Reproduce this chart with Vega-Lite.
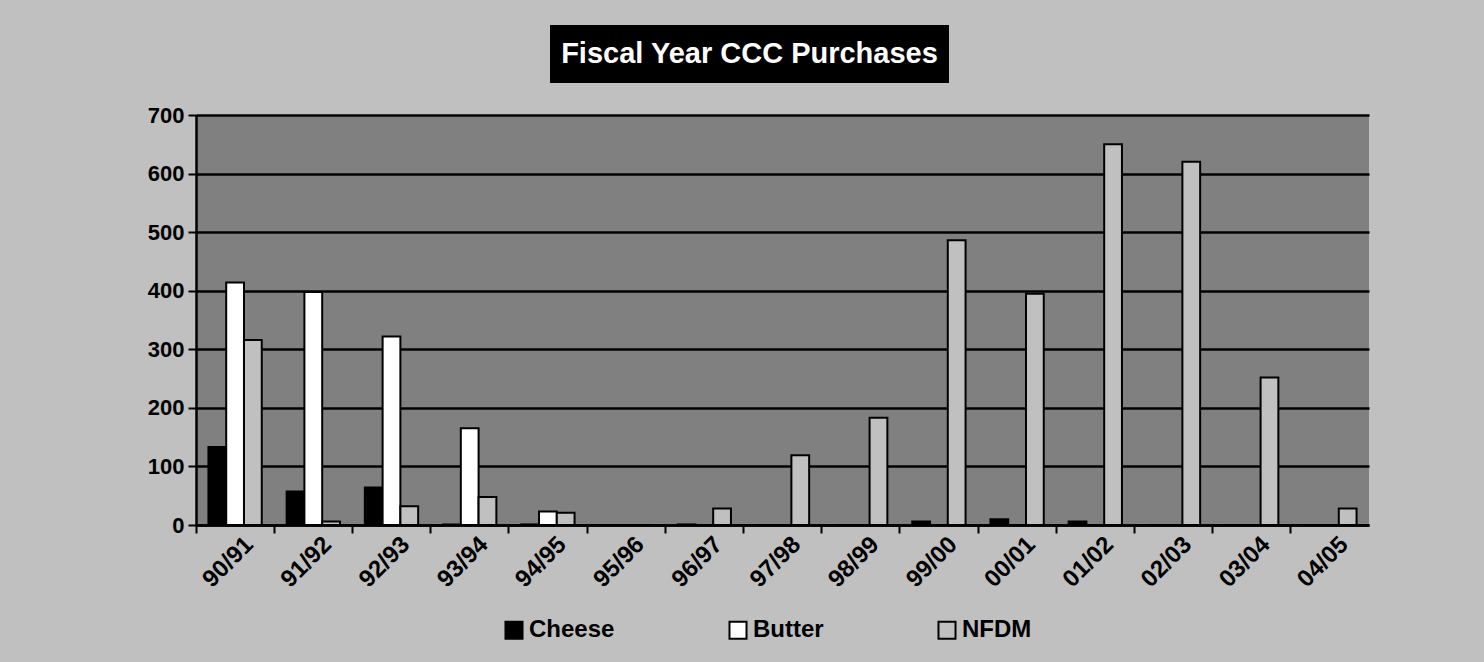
{
  "$schema": "https://vega.github.io/schema/vega-lite/v6.json",
  "background": "#c0c0c0",
  "padding": {"left": 0, "top": 25, "right": 115, "bottom": 22},
  "config": {"font": "Liberation Sans", "view": {"stroke": null}},
  "spacing": 21,
  "vconcat": [
    {
      "spacing": 0,
      "hconcat": [
        {
          "width": 354,
          "height": 58,
          "data": {"values": [{"t": ""}]},
          "mark": {"type": "text"},
          "encoding": {"text": {"field": "t"}}
        },
        {
          "width": 399,
          "height": 58,
          "view": {"fill": "black", "stroke": null},
          "data": {"values": [{"t": "Fiscal Year CCC Purchases"}]},
          "mark": {"type": "text", "color": "white", "fontSize": 29, "fontWeight": "bold", "font": "Liberation Sans"},
          "encoding": {"text": {"field": "t"}}
        }
      ]
    },
    {
      "width": 1173,
      "height": 410,
      "view": {"fill": "#808080", "stroke": null},
      "data": {"values": [
        {"year": "90/91", "series": "Cheese", "value": 133},
        {"year": "90/91", "series": "Butter", "value": 414},
        {"year": "90/91", "series": "NFDM", "value": 316},
        {"year": "91/92", "series": "Cheese", "value": 57},
        {"year": "91/92", "series": "Butter", "value": 398},
        {"year": "91/92", "series": "NFDM", "value": 6},
        {"year": "92/93", "series": "Cheese", "value": 64},
        {"year": "92/93", "series": "Butter", "value": 322},
        {"year": "92/93", "series": "NFDM", "value": 32},
        {"year": "93/94", "series": "Cheese", "value": 1},
        {"year": "93/94", "series": "Butter", "value": 165},
        {"year": "93/94", "series": "NFDM", "value": 48},
        {"year": "94/95", "series": "Cheese", "value": 1},
        {"year": "94/95", "series": "Butter", "value": 23},
        {"year": "94/95", "series": "NFDM", "value": 21},
        {"year": "95/96", "series": "Cheese", "value": 0},
        {"year": "95/96", "series": "Butter", "value": 0},
        {"year": "95/96", "series": "NFDM", "value": 0},
        {"year": "96/97", "series": "Cheese", "value": 1},
        {"year": "96/97", "series": "Butter", "value": 0},
        {"year": "96/97", "series": "NFDM", "value": 28},
        {"year": "97/98", "series": "Cheese", "value": 0},
        {"year": "97/98", "series": "Butter", "value": 0},
        {"year": "97/98", "series": "NFDM", "value": 119},
        {"year": "98/99", "series": "Cheese", "value": 0},
        {"year": "98/99", "series": "Butter", "value": 0},
        {"year": "98/99", "series": "NFDM", "value": 183},
        {"year": "99/00", "series": "Cheese", "value": 6},
        {"year": "99/00", "series": "Butter", "value": 0},
        {"year": "99/00", "series": "NFDM", "value": 486},
        {"year": "00/01", "series": "Cheese", "value": 10},
        {"year": "00/01", "series": "Butter", "value": 0},
        {"year": "00/01", "series": "NFDM", "value": 395},
        {"year": "01/02", "series": "Cheese", "value": 6},
        {"year": "01/02", "series": "Butter", "value": 0},
        {"year": "01/02", "series": "NFDM", "value": 650},
        {"year": "02/03", "series": "Cheese", "value": 0},
        {"year": "02/03", "series": "Butter", "value": 0},
        {"year": "02/03", "series": "NFDM", "value": 620},
        {"year": "03/04", "series": "Cheese", "value": 0},
        {"year": "03/04", "series": "Butter", "value": 0},
        {"year": "03/04", "series": "NFDM", "value": 252},
        {"year": "04/05", "series": "Cheese", "value": 0},
        {"year": "04/05", "series": "Butter", "value": 0},
        {"year": "04/05", "series": "NFDM", "value": 28}
      ]},
      "mark": {"type": "bar", "stroke": "black", "strokeWidth": 2},
      "encoding": {
        "x": {
          "field": "year", "type": "nominal", "sort": null,
          "scale": {"paddingInner": 0, "paddingOuter": 0},
          "axis": {
            "title": null, "labelAngle": -45, "labelFontSize": 24, "labelFontWeight": "bold",
            "labelColor": "black", "labelFont": "Liberation Sans", "bandPosition": 0,
            "tickColor": "black", "tickWidth": 2, "tickSize": 8,
            "domainColor": "black", "domainWidth": 2.5, "labelPadding": -1, "labelOffset": 6, "grid": false
          }
        },
        "xOffset": {
          "field": "series", "type": "nominal", "sort": ["Cheese", "Butter", "NFDM"],
          "scale": {"paddingInner": 0, "paddingOuter": 0.7}
        },
        "y": {
          "field": "value", "type": "quantitative",
          "scale": {"domain": [0, 700], "nice": false},
          "axis": {
            "title": null, "values": [0, 100, 200, 300, 400, 500, 600, 700],
            "labelFontSize": 22, "labelFontWeight": "bold", "labelColor": "black", "labelFont": "Liberation Sans",
            "tickColor": "black", "tickWidth": 2, "tickSize": 8,
            "domainColor": "black", "domainWidth": 2.5,
            "grid": true, "gridColor": "black", "gridWidth": 2.5,
            "labelPadding": 4, "minExtent": 196
          }
        },
        "color": {
          "field": "series", "type": "nominal",
          "scale": {"domain": ["Cheese", "Butter", "NFDM"], "range": ["#000000", "#ffffff", "#c0c0c0"]},
          "legend": {
            "title": null, "orient": "none", "legendX": 306, "legendY": 593,
            "direction": "horizontal", "columns": 3, "padding": 0,
            "symbolType": "square", "symbolSize": 290, "symbolStrokeColor": "black", "symbolStrokeWidth": 2,
            "labelFontSize": 24, "labelFontWeight": "bold", "labelColor": "black", "labelFont": "Liberation Sans",
            "labelOffset": 3, "columnPadding": 110
          }
        }
      }
    }
  ]
}
